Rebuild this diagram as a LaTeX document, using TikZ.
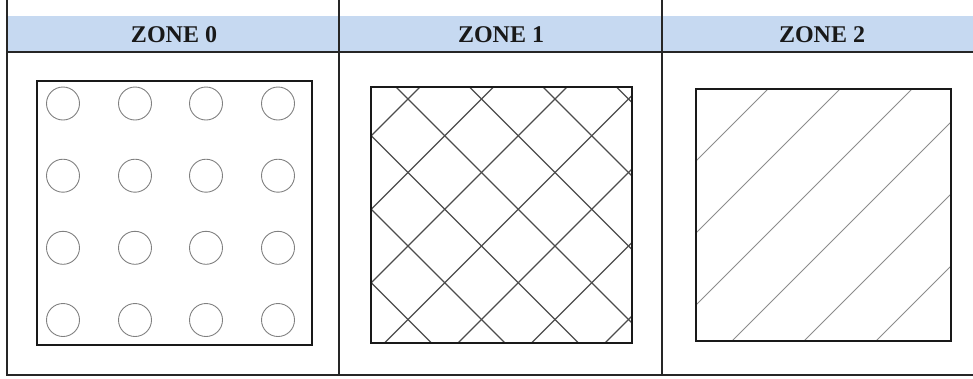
\documentclass[tikz,border=0pt]{standalone}
\usepackage{fontspec}
\setmainfont{Liberation Serif}
\definecolor{headblue}{HTML}{C6D9F1}
\begin{document}
\begin{tikzpicture}[x=1pt,y=-1pt,
  frame/.style={line width=1.6pt, draw=black!85},
  box/.style={line width=1.7pt, draw=black!90},
  hdr/.style={font=\bfseries\fontsize{24}{27}\selectfont, text=black!90, inner sep=0pt},
  dot/.style={draw=black!50, line width=0.9pt},
  hatchA/.style={draw=black!70, line width=1.1pt},
  hatchB/.style={draw=black!45, line width=0.9pt}]
\useasboundingbox (0,0) rectangle (973,378);
% header band
\fill[headblue] (7,16) rectangle (973,52);
% frame lines
\coordinate (tl) at (7,0);
\coordinate (bl) at (7,375);
\coordinate (br) at (973,375);
\coordinate (hl) at (7,52);
\coordinate (hr) at (973,52);
\coordinate (d1t) at (339,0);
\coordinate (d1b) at (339,375);
\coordinate (d2t) at (662,0);
\coordinate (d2b) at (662,375);
\draw[frame] (tl) -- (bl) -- (br);
\draw[frame] (hl) -- (hr);
\draw[frame] (d1t) -- (d1b);
\draw[frame] (d2t) -- (d2b);
% headers
\node[hdr] (z0) at (174,35) {ZONE 0};
\node[hdr] (z1) at (501,35) {ZONE 1};
\node[hdr] (z2) at (822,35) {ZONE 2};
% zone 0
\foreach \x in {63,135,206,278}{
  \foreach \y in {103.5,175.7,247.8,320}{
    \draw[dot] (\x,\y) circle[radius=16.5];
  }
}
\draw[box] (37,81) rectangle (312,345);
% zone 1
\begin{scope}
  \clip (371,87) rectangle (632,343);
  \foreach \c in {-529.5,-456,-382.5,-309,-235.5,-162,-88.5}{
    \draw[hatchA] (300,300+\c) -- (700,700+\c);
  }
  \foreach \d in {507,580.5,654,727.5,801,874.5,948}{
    \draw[hatchA] (300,\d-300) -- (700,\d-700);
  }
\end{scope}
\draw[box] (371,87) rectangle (632,343);
% zone 2
\begin{scope}
  \clip (696,89) rectangle (951,341);
  \foreach \d in {857,929,1001,1073,1145,1217}{
    \draw[hatchB] (600,\d-600) -- (1000,\d-1000);
  }
\end{scope}
\draw[box] (696,89) rectangle (951,341);
\end{tikzpicture}
\end{document}
